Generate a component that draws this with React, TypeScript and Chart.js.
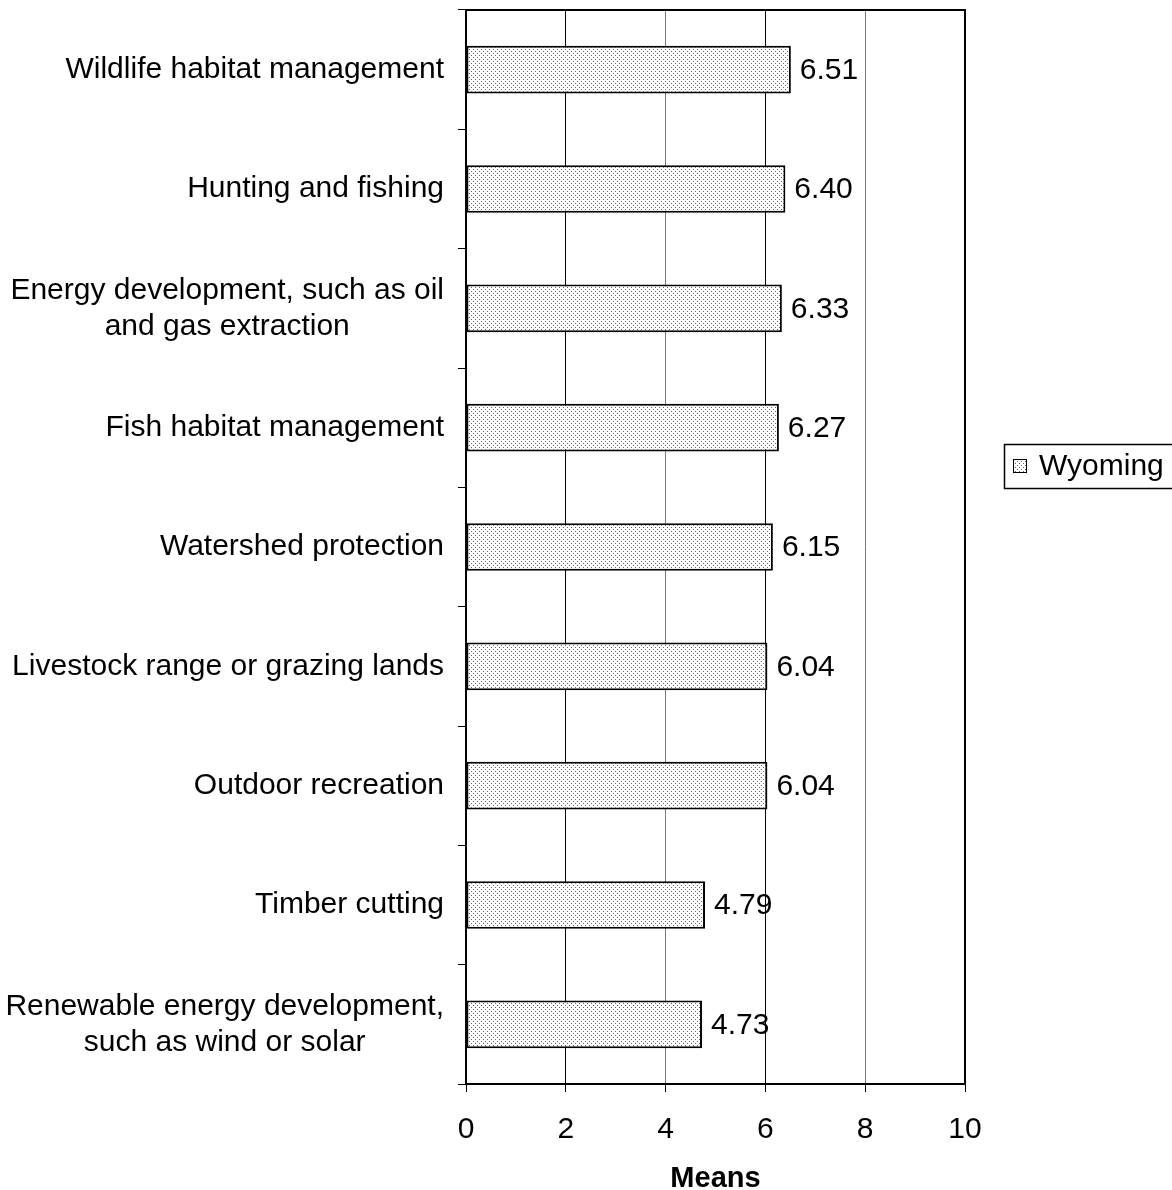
import React, { useEffect, useRef } from "react";
import { Chart, registerables } from "chart.js";

Chart.register(...registerables);

const categories: (string | string[])[] = [
  "Wildlife habitat management",
  "Hunting and fishing",
  ["Energy development, such as oil", "and gas extraction"],
  "Fish habitat management",
  "Watershed protection",
  "Livestock range or grazing lands",
  "Outdoor recreation",
  "Timber cutting",
  ["Renewable energy development,", "such as wind or solar"],
];
const wyomingMeans = [6.51, 6.4, 6.33, 6.27, 6.15, 6.04, 6.04, 4.79, 4.73];
const seriesLabel = "Wyoming";
const axisTitle = "Means";
const xMin = 0;
const xMax = 10;
const xStep = 2;

const FONT = "'Liberation Sans', Arial, sans-serif";

function makePattern(): CanvasPattern | string {
  const c = document.createElement("canvas");
  c.width = 4;
  c.height = 4;
  const g = c.getContext("2d");
  if (!g) return "#ddd";
  g.fillStyle = "#ffffff";
  g.fillRect(0, 0, 4, 4);
  g.fillStyle = "#666666";
  g.fillRect(1, 1, 1, 1);
  g.fillRect(3, 3, 1, 1);
  const ctx = document.createElement("canvas").getContext("2d");
  const p = ctx ? ctx.createPattern(c, "repeat") : null;
  return p || "#ddd";
}

export default function App() {
  const ref = useRef<HTMLCanvasElement | null>(null);

  useEffect(() => {
    if (!ref.current) return;
    const pattern = makePattern();

    const frame = {
      id: "frame",
      afterDraw(chart: any) {
        const { ctx, chartArea } = chart;
        ctx.save();
        ctx.strokeStyle = "#000";
        ctx.lineWidth = 2;
        ctx.strokeRect(chartArea.left, chartArea.top, chartArea.right - chartArea.left, chartArea.bottom - chartArea.top);

        // category labels: right-aligned block, lines centred within block
        const yScale = chart.scales.y;
        ctx.fillStyle = "#000";
        ctx.font = `30px ${FONT}`;
        ctx.textBaseline = "middle";
        ctx.textAlign = "center";
        const rightEdge = chartArea.left - 22;
        const lineH = 36;
        categories.forEach((lab, i) => {
          const lines = Array.isArray(lab) ? lab : [lab];
          const maxW = Math.max(...lines.map((l) => ctx.measureText(l).width));
          const cx = rightEdge - maxW / 2;
          const cy = yScale.getPixelForValue(i);
          lines.forEach((l, j) => {
            const y = cy + (j - (lines.length - 1) / 2) * lineH;
            ctx.fillText(l, cx, y);
          });
        });

        // legend
        const lx = 1004.5, ly = 444.5, lw = 180, lh = 44;
        ctx.lineWidth = 1.5;
        ctx.fillStyle = "#fff";
        ctx.fillRect(lx, ly, lw, lh);
        ctx.strokeRect(lx, ly, lw, lh);
        ctx.fillStyle = pattern as any;
        ctx.fillRect(1013, 459, 13, 14);
        ctx.lineWidth = 1;
        ctx.strokeStyle = "#000";
        ctx.strokeRect(1013.5, 459.5, 13, 13);
        ctx.fillStyle = "#000";
        ctx.font = `30px ${FONT}`;
        ctx.textBaseline = "middle";
        ctx.textAlign = "left";
        ctx.fillText(seriesLabel, 1039, 467);
        ctx.restore();
      },
    };

    const labels = {
      id: "valueLabels",
      afterDatasetsDraw(chart: any) {
        const { ctx } = chart;
        const meta = chart.getDatasetMeta(0);
        ctx.save();
        ctx.fillStyle = "#000";
        ctx.font = `30px ${FONT}`;
        ctx.textBaseline = "middle";
        ctx.textAlign = "left";
        meta.data.forEach((bar: any, i: number) => {
          ctx.fillText(wyomingMeans[i].toFixed(2), bar.x + 9, bar.y + 1);
        });
        ctx.restore();
      },
    };

    const chart = new Chart(ref.current, {
      type: "bar",
      data: {
        labels: categories,
        datasets: [
          {
            label: seriesLabel,
            data: wyomingMeans,
            backgroundColor: pattern as any,
            borderColor: "#000",
            borderWidth: 2,
            borderSkipped: false,
            categoryPercentage: 0.8,
            barPercentage: 0.5,
          },
        ],
      },
      options: {
        indexAxis: "y",
        responsive: false,
        animation: false,
        layout: { padding: { left: 0, right: 207, top: 10, bottom: 0 } },
        plugins: { legend: { display: false }, tooltip: { enabled: false } },
        scales: {
          x: {
            min: xMin,
            max: xMax,
            ticks: {
              stepSize: xStep,
              color: "#000",
              font: { family: FONT, size: 30 },
              padding: 20,
            },
            grid: {
              color: (c: any) => (c.tick && (c.tick.value === 4 || c.tick.value === 8) ? "#777" : "#000"),
              lineWidth: 1,
              tickLength: 8,
              tickColor: "#000",
            },
            border: { display: true, color: "#000", width: 2 },
            title: {
              display: true,
              text: axisTitle,
              color: "#000",
              font: { family: FONT, size: 29, weight: "bold", lineHeight: 1 },
              padding: { top: 0, bottom: -3 },
            },
            afterFit(scale: any) {
              scale.height = 106;
              scale.paddingLeft = 0;
              scale.paddingRight = 0;
            },
          },
          y: {
            ticks: {
              color: "rgba(0,0,0,0)",
              font: { family: FONT, size: 30, lineHeight: 1.2 },
              padding: 14,
              autoSkip: false,
            },
            grid: {
              display: true,
              drawOnChartArea: false,
              drawTicks: true,
              tickLength: 8,
              tickColor: "#000",
              offset: true,
            },
            border: { display: true, color: "#000", width: 2 },
            afterFit(scale: any) {
              scale.width = 466;
              scale.paddingTop = 0;
              scale.paddingBottom = 0;
            },
          },
        },
      },
      plugins: [labels, frame],
    } as any);

    return () => chart.destroy();
  }, []);

  return (
    <div style={{ position: "fixed", left: 0, top: 0, width: 1172, height: 1190, background: "#fff" }}>
      <canvas ref={ref} width={1172} height={1190} />
    </div>
  );
}
